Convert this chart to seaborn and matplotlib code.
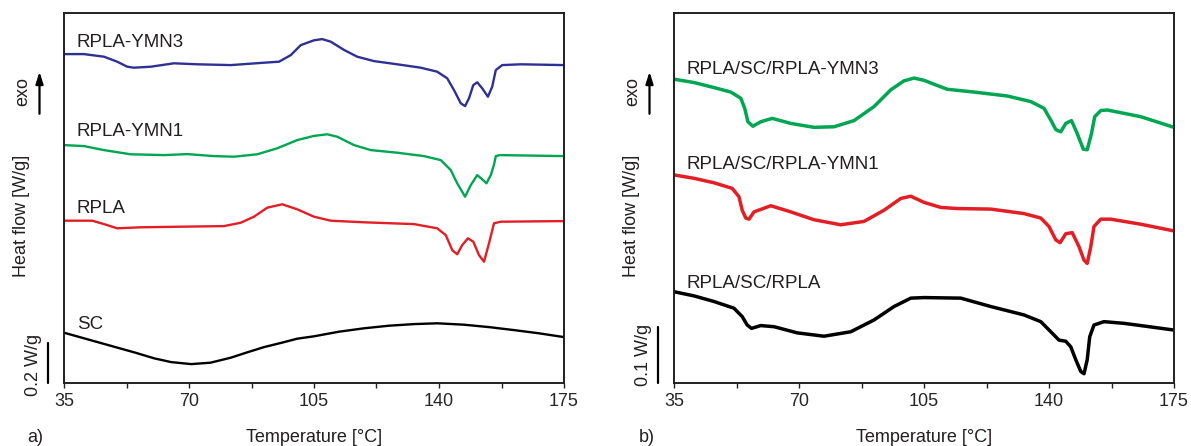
import numpy as np
import pandas as pd
import matplotlib
matplotlib.use("Agg")
import matplotlib.pyplot as plt
import matplotlib.transforms as mtransforms
import seaborn as sns

# ---------------- data (heat flow in W/g, shifted for display) ----------------
# panel a)
t_ymn3 = [35, 40.6, 46.2, 49.9, 52.7, 54.6, 59.3, 65.8, 72.3, 81.7, 91, 95.2, 98.5, 101.3, 105, 107.3,
          109.7, 113.4, 117.1, 121.8, 128.3, 134.9, 139.5, 142.3, 144.2, 146.1, 147.3, 148.4, 149.6, 150.7,
          152.1, 153.7, 154.9, 155.9, 157.7, 162.9, 175]
hf_ymn3 = [1.643, 1.643, 1.630, 1.605, 1.580, 1.575, 1.580, 1.597, 1.592, 1.588, 1.600, 1.605, 1.638, 1.688,
           1.712, 1.718, 1.705, 1.664, 1.630, 1.608, 1.592, 1.575, 1.555, 1.522, 1.463, 1.397, 1.383, 1.422,
           1.488, 1.502, 1.472, 1.430, 1.480, 1.563, 1.588, 1.592, 1.588]

t_ymn1 = [35, 40.6, 46.2, 53.7, 63, 69.5, 77, 82.6, 89.1, 94.7, 100.3, 105, 108.7, 111.5, 116.2, 120.9,
          128.3, 135.8, 140.5, 143.3, 145.1, 147.3, 148.9, 150.7, 152.1, 153.3, 154.5, 155.4, 155.9, 157,
          175]
hf_ymn1 = [1.188, 1.183, 1.163, 1.142, 1.138, 1.143, 1.133, 1.130, 1.142, 1.172, 1.213, 1.234, 1.242, 1.230,
           1.188, 1.163, 1.150, 1.133, 1.113, 1.063, 0.997, 0.930, 0.988, 1.038, 1.017, 0.997, 1.038, 1.090,
           1.133, 1.138, 1.133]

t_rpla = [35, 42.9, 46.2, 49.9, 56.5, 67.7, 79.8, 84.5, 88.2, 91.9, 96.1, 100.3, 105, 109.7, 119, 133,
          139.5, 141.9, 143.7, 145.1, 146.5, 148.1, 149.6, 151.2, 152.6, 154, 155.4, 157.3, 175]
hf_rpla = [0.810, 0.810, 0.793, 0.772, 0.777, 0.780, 0.783, 0.800, 0.830, 0.875, 0.892, 0.867, 0.830, 0.810,
           0.802, 0.793, 0.772, 0.738, 0.663, 0.642, 0.688, 0.722, 0.705, 0.638, 0.605, 0.697, 0.797, 0.805,
           0.808]

t_sc = [35, 42, 49, 55, 60.2, 65, 70.6, 76, 81.7, 86, 91, 96, 100.3, 105, 112, 119, 126, 133, 139.5, 147,
        154, 161, 168, 175]
hf_sc = [0.250, 0.215, 0.180, 0.150, 0.122, 0.103, 0.093, 0.100, 0.125, 0.150, 0.178, 0.200, 0.220, 0.232,
         0.255, 0.272, 0.285, 0.293, 0.297, 0.290, 0.278, 0.263, 0.247, 0.228]

# panel b)
t_lam3 = [35, 40.6, 46.2, 50.9, 53.7, 54.8, 55.7, 57.1, 59.3, 62.5, 67.7, 74.2, 79.8, 85.4, 91, 95.7, 99.4,
          102.2, 105, 107.8, 111.5, 119, 128.3, 134.9, 138.6, 140.5, 141.9, 143.3, 144.7, 146.3, 147.9,
          149.6, 150.7, 151.9, 152.8, 154.5, 156.3, 165.7, 175]
hf_lam3 = [0.542, 0.536, 0.527, 0.519, 0.508, 0.490, 0.466, 0.458, 0.466, 0.472, 0.463, 0.456, 0.457, 0.468,
           0.493, 0.523, 0.539, 0.544, 0.540, 0.533, 0.524, 0.519, 0.512, 0.502, 0.490, 0.469, 0.452, 0.448,
           0.463, 0.468, 0.445, 0.417, 0.416, 0.445, 0.475, 0.486, 0.487, 0.475, 0.456]

t_lam1 = [35, 40.6, 46.2, 51.3, 53.2, 54.1, 55.1, 56, 57.4, 62.1, 67.7, 74.2, 81.7, 88.2, 93.8, 98.5, 101.3,
          105, 109.7, 114.3, 123.7, 133, 137.7, 140, 141.9, 143.1, 144.7, 146.5, 148.4, 149.8, 150.7, 151.7,
          152.6, 154.5, 157.3, 165.7, 175]
hf_lam1 = [0.371, 0.365, 0.357, 0.347, 0.332, 0.308, 0.294, 0.292, 0.305, 0.316, 0.305, 0.291, 0.282, 0.288,
           0.308, 0.329, 0.333, 0.322, 0.313, 0.311, 0.310, 0.302, 0.294, 0.279, 0.255, 0.250, 0.266, 0.268,
           0.243, 0.219, 0.213, 0.243, 0.279, 0.292, 0.292, 0.283, 0.271]

t_lam0 = [35, 40.6, 46.2, 51.8, 54.1, 55.5, 56.7, 59.3, 63, 69.5, 77, 84.5, 91, 96.6, 101.3, 105, 115.3,
          123.7, 133, 137.7, 140.5, 142.8, 144.7, 146.1, 147.5, 148.9, 149.8, 150.7, 151.4, 152.6, 155.4,
          161, 165.7, 175]
hf_lam0 = [0.1625, 0.155, 0.145, 0.133, 0.118, 0.103, 0.097, 0.102, 0.100, 0.089, 0.083, 0.091, 0.112, 0.136,
           0.151, 0.152, 0.151, 0.136, 0.121, 0.109, 0.091, 0.076, 0.074, 0.064, 0.041, 0.020, 0.016, 0.041,
           0.082, 0.103, 0.109, 0.106, 0.102, 0.094]

names_a = ["RPLA-YMN3", "RPLA-YMN1", "RPLA", "SC"]
names_b = ["RPLA/SC/RPLA-YMN3", "RPLA/SC/RPLA-YMN1", "RPLA/SC/RPLA"]
xticks = [35, 70, 105, 140, 175]
xminor = [52.5, 87.5, 122.5, 157.5]

BLUE, GREEN, RED, BLACK = "#2e3192", "#00a651", "#e31e24", "#000000"
colors_a = [BLUE, GREEN, RED, BLACK]
colors_b = [GREEN, RED, BLACK]


def frame(ts, hs, names):
    rows = []
    for t, h, n in zip(ts, hs, names):
        rows.append(pd.DataFrame({"T": t, "HF": h, "sample": n}))
    return pd.concat(rows, ignore_index=True)


df_a = frame([t_ymn3, t_ymn1, t_rpla, t_sc], [hf_ymn3, hf_ymn1, hf_rpla, hf_sc], names_a)
df_b = frame([t_lam3, t_lam1, t_lam0], [hf_lam3, hf_lam1, hf_lam0], names_b)

sns.set_style("ticks")
plt.rcParams["font.family"] = ["Liberation Sans", "DejaVu Sans"]
plt.rcParams["axes.linewidth"] = 1.2

fig = plt.figure(figsize=(11.91, 4.46), dpi=100)
W, H = 1191.0, 446.0
ax_a = fig.add_axes([64 / W, 1 - 382.7 / H, 500 / W, 369.4 / H])
ax_b = fig.add_axes([674 / W, 1 - 382.7 / H, 500 / W, 369.4 / H])

spine_col = "#231f20"


def style(ax, df, names, colors, ylim, lw, labels_y, bar_val, bar_text, bar_text_y):
    sns.lineplot(data=df, x="T", y="HF", hue="sample", hue_order=names, palette=colors,
                 sort=False, estimator=None, units="sample", linewidth=lw, legend=False, ax=ax)
    for line in ax.get_lines():
        line.set_solid_joinstyle("round")
        line.set_solid_capstyle("round")
    ax.set_xlim(35, 175)
    ax.set_ylim(*ylim)
    ax.set_xticks(xticks)
    ax.set_xticks(xminor, minor=True)
    ax.set_yticks([])
    ax.tick_params(axis="x", which="both", direction="out", length=3.5, width=1.0,
                   labelsize=13, pad=4, color=spine_col)
    for s in ax.spines.values():
        s.set_visible(True)
        s.set_color(spine_col)
        s.set_linewidth(1.4)
    ax.set_xlabel("")
    ax.set_ylabel("")
    for n, y in zip(names, labels_y):
        ax.text(38.6, y, n, fontsize=13.5, va="center", ha="left", color="#231f20")
    # scale bar
    tr = mtransforms.blended_transform_factory(ax.transAxes, ax.transData)
    ax.plot([-0.0326, -0.0326], [0, bar_val], color="black", lw=1.6, transform=tr, clip_on=False)
    ax.text(-0.062, bar_text_y, bar_text, rotation=90, fontsize=13, ha="center", va="center",
            transform=tr, color="#231f20")
    # exo arrow
    ax.annotate("", xy=(-0.049, 0.842), xytext=(-0.049, 0.728), xycoords="axes fraction",
                textcoords="axes fraction",
                arrowprops=dict(arrowstyle="-|>,head_length=0.7,head_width=0.22", color="black",
                                lw=1.6, shrinkA=0, shrinkB=0), annotation_clip=False)
    ax.text(-0.083, 0.787, "exo", rotation=90, fontsize=13, ha="center", va="center",
            transform=ax.transAxes, color="#231f20")
    ax.text(-0.085, 0.452, "Heat flow [W/g]", rotation=90, fontsize=13, ha="center", va="center",
            transform=ax.transAxes, color="#231f20")


style(ax_a, df_a, names_a, colors_a, (0, 369.4 / 200), 1.7,
      [1.699, 1.254, 0.869, 0.289], 0.2, "0.2 W/g", 0.088)
style(ax_b, df_b, names_b, colors_b, (0, 369.4 / 560), 2.5,
      [0.560, 0.389, 0.178], 0.1, "0.1 W/g", 0.049)

fig.text(314 / W, 1 - 437 / H, "Temperature [°C]", fontsize=13, ha="center", va="center", color="#231f20")
fig.text(924 / W, 1 - 437 / H, "Temperature [°C]", fontsize=13, ha="center", va="center", color="#231f20")
fig.text(35 / W, 1 - 437 / H, "a)", fontsize=13, ha="center", va="center", color="#231f20")
fig.text(647 / W, 1 - 437 / H, "b)", fontsize=13, ha="center", va="center", color="#231f20")

fig.savefig("out.png", dpi=100)
